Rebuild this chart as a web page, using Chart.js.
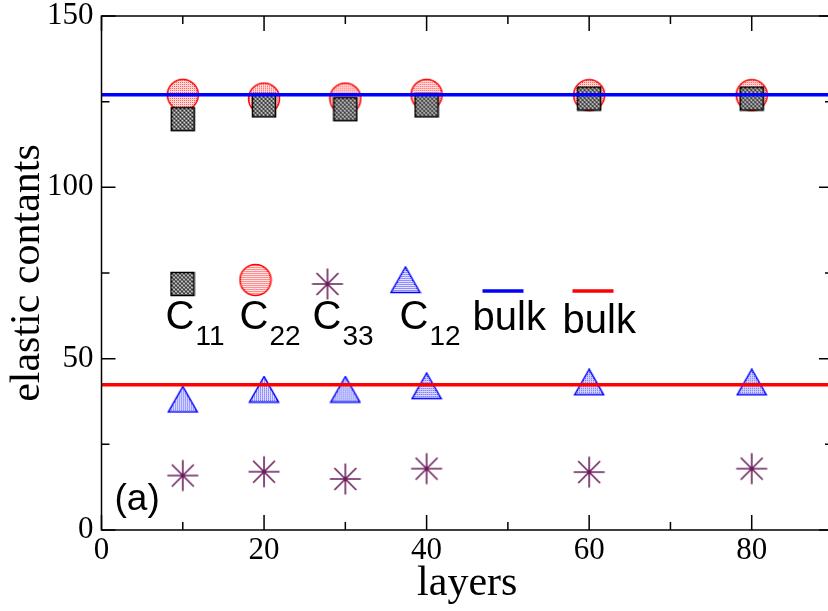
<!DOCTYPE html>
<html>
<head>
<meta charset="utf-8">
<script src="https://cdn.jsdelivr.net/npm/chart.js@4.4.1/dist/chart.umd.min.js"></script>
<style>
  html, body { margin: 0; padding: 0; background: #fff; overflow: hidden; }
  #wrap { width: 840px; height: 611px; }
</style>
</head>
<body>
<div id="wrap"><canvas id="myChart" width="840" height="611"></canvas></div>
<script>
// elastic constants vs number of layers
const layers = [10, 20, 30, 40, 60, 80];
const c11 = [119.9, 123.9, 122.8, 123.9, 125.9, 125.9];
const c22 = [127.0, 125.9, 125.9, 127.0, 126.9, 126.9];
const c33 = [15.9, 17.0, 14.9, 17.9, 16.9, 17.9];
const c12 = [38.1, 41.0, 41.0, 42.0, 43.1, 43.1];
const bulkC11 = 127.0;
const bulkC12 = 42.4;

const xRange = [0, 90];
const yRange = [0, 150];
const xMajor = [0, 20, 40, 60, 80];
const xMinor = [10, 30, 50, 70];
const yMajor = [0, 50, 100, 150];
const yMinor = [25, 75, 125];

const SERIF = '"Liberation Serif", "Times New Roman", serif';
const SANS = '"Liberation Sans", Arial, sans-serif';

function pts(ys) {
  return layers.map((x, i) => ({ x: x, y: ys[i] }));
}

// small stipple patterns like the old xmgrace fills
function stipple(ctx, size, base, dots) {
  const p = document.createElement('canvas');
  p.width = size; p.height = size;
  const pc = p.getContext('2d');
  pc.fillStyle = base;
  pc.fillRect(0, 0, size, size);
  dots.forEach(([px, py, c]) => {
    pc.fillStyle = c;
    pc.fillRect(px, py, 1, 1);
  });
  return ctx.createPattern(p, 'repeat');
}

function makeSquare() {
  const c = document.createElement('canvas');
  c.width = 26; c.height = 26;
  const g = c.getContext('2d');
  g.fillStyle = stipple(g, 4, '#7c7c7c', [
    [0, 0, '#000'], [2, 2, '#000'], [2, 0, '#fff'], [0, 2, '#fff'],
    [1, 1, '#555'], [3, 3, '#555']
  ]);
  g.fillRect(1, 1, 24, 24);
  g.strokeStyle = '#000';
  g.lineWidth = 1.5;
  g.strokeRect(1.5, 1.5, 23, 23);
  return c;
}

function makeCircle() {
  const c = document.createElement('canvas');
  c.width = 34; c.height = 34;
  const g = c.getContext('2d');
  g.beginPath();
  g.arc(17, 17, 15.5, 0, Math.PI * 2);
  g.fillStyle = stipple(g, 2, '#fff', [[0, 0, '#ff2020'], [1, 1, '#ffc8c8']]);
  g.fill();
  g.strokeStyle = '#ff0000';
  g.lineWidth = 1.5;
  g.stroke();
  return c;
}

function makeTriangle() {
  const c = document.createElement('canvas');
  c.width = 32; c.height = 28;
  const g = c.getContext('2d');
  g.beginPath();
  g.moveTo(16, 1);
  g.lineTo(1.5, 26.5);
  g.lineTo(30.5, 26.5);
  g.closePath();
  g.fillStyle = stipple(g, 2, '#fff', [[0, 0, '#2020ff'], [1, 1, '#c8c8ff']]);
  g.fill();
  g.strokeStyle = '#0000ff';
  g.lineWidth = 1.5;
  g.stroke();
  return c;
}

function makeStar() {
  const c = document.createElement('canvas');
  c.width = 34; c.height = 34;
  const g = c.getContext('2d');
  const r = 15.5, m = 17;
  g.strokeStyle = '#6b1e5c';
  g.lineWidth = 1.6;
  g.beginPath();
  for (let k = 0; k < 4; k++) {
    const a = k * Math.PI / 4;
    g.moveTo(m - Math.cos(a) * r, m - Math.sin(a) * r);
    g.lineTo(m + Math.cos(a) * r, m + Math.sin(a) * r);
  }
  g.stroke();
  return c;
}

const squareImg = makeSquare();
const circleImg = makeCircle();
const triImg = makeTriangle();
const starImg = makeStar();

// box with inward major/minor ticks on all four sides
const frame = {
  id: 'frame',
  afterDatasetsDraw(chart) {
    const { ctx, chartArea: a, scales: { x, y } } = chart;
    ctx.save();
    ctx.strokeStyle = '#000';
    ctx.lineWidth = 1.5;
    ctx.beginPath();
    const tick = (v, len, horiz) => {
      if (horiz) {
        const px = x.getPixelForValue(v);
        ctx.moveTo(px, a.bottom); ctx.lineTo(px, a.bottom - len);
        ctx.moveTo(px, a.top); ctx.lineTo(px, a.top + len);
      } else {
        const py = y.getPixelForValue(v);
        ctx.moveTo(a.left, py); ctx.lineTo(a.left + len, py);
        ctx.moveTo(a.right, py); ctx.lineTo(a.right - len, py);
      }
    };
    xMajor.forEach(v => tick(v, 15, true));
    xMinor.forEach(v => tick(v, 8, true));
    yMajor.forEach(v => tick(v, 14, false));
    yMinor.forEach(v => tick(v, 8, false));
    ctx.stroke();
    ctx.strokeRect(a.left, a.top, a.right - a.left, a.bottom - a.top);
    ctx.restore();
  }
};

// hand placed legend and panel label
const legendBox = {
  id: 'legendBox',
  afterDraw(chart) {
    const { ctx, chartArea: a } = chart;
    const L = a.left, T = a.top;
    ctx.save();
    const mark = (img, cx, cy) => ctx.drawImage(img, L + cx - img.width / 2, T + cy - img.height / 2);
    mark(squareImg, 81, 268);
    mark(circleImg, 154, 264);
    mark(starImg, 226, 268);
    mark(triImg, 304, 264);

    ctx.fillStyle = '#000';
    ctx.textBaseline = 'alphabetic';
    const label = (sub, left) => {
      ctx.font = '40px ' + SANS;
      ctx.fillText('C', L + left, T + 313);
      const w = ctx.measureText('C').width;
      ctx.font = '28px ' + SANS;
      ctx.fillText(sub, L + left + w + 1, T + 329);
    };
    label('11', 64);
    label('22', 138);
    label('33', 211);
    label('12', 298);

    ctx.lineWidth = 3.5;
    ctx.strokeStyle = '#0000ff';
    ctx.beginPath(); ctx.moveTo(L + 381, T + 275); ctx.lineTo(L + 422, T + 275); ctx.stroke();
    ctx.strokeStyle = '#ff0000';
    ctx.beginPath(); ctx.moveTo(L + 471, T + 275); ctx.lineTo(L + 512, T + 275); ctx.stroke();

    ctx.font = '40px ' + SANS;
    ctx.fillText('bulk', L + 371, T + 314);
    ctx.fillText('bulk', L + 461, T + 317);

    ctx.font = '37px ' + SANS;
    ctx.fillText('(a)', L + 13, T + 494);
    ctx.restore();
  }
};

const ctx = document.getElementById('myChart').getContext('2d');
const myChart = new Chart(ctx, {
  type: 'scatter',
  data: {
    datasets: [
      {
        label: 'bulk',
        data: [{ x: xRange[0], y: bulkC11 }, { x: xRange[1], y: bulkC11 }],
        showLine: true,
        borderColor: '#0000ff',
        borderWidth: 3.5,
        pointRadius: 0,
        order: 0
      },
      {
        label: 'bulk',
        data: [{ x: xRange[0], y: bulkC12 }, { x: xRange[1], y: bulkC12 }],
        showLine: true,
        borderColor: '#ff0000',
        borderWidth: 3.5,
        pointRadius: 0,
        order: 0
      },
      { label: 'C11', data: pts(c11), pointStyle: squareImg, order: 1 },
      { label: 'C22', data: pts(c22), pointStyle: circleImg, order: 2 },
      { label: 'C33', data: pts(c33), pointStyle: starImg, order: 1 },
      { label: 'C12', data: pts(c12), pointStyle: triImg, order: 1 }
    ]
  },
  options: {
    responsive: false,
    animation: false,
    layout: { padding: { left: 0, right: 7, top: 16, bottom: 0 } },
    plugins: {
      legend: { display: false },
      tooltip: { enabled: false }
    },
    scales: {
      x: {
        type: 'linear',
        min: xRange[0],
        max: xRange[1],
        grid: { display: false, drawTicks: false },
        border: { display: false },
        afterFit: s => { s.height = 81; s.paddingLeft = 0; s.paddingRight = 0; },
        ticks: {
          stepSize: 20,
          includeBounds: false,
          padding: 2,
          color: '#000',
          maxRotation: 0,
          font: { family: SERIF, size: 31 }
        },
        title: {
          display: true,
          text: 'layers',
          color: '#000',
          font: { family: SERIF, size: 42 },
          padding: { top: 0, bottom: 2 }
        }
      },
      y: {
        min: yRange[0],
        max: yRange[1],
        grid: { display: false, drawTicks: false },
        border: { display: false },
        afterFit: s => { s.width = 101.5; s.paddingTop = 0; s.paddingBottom = 0; },
        ticks: {
          stepSize: 50,
          padding: 8,
          color: '#000',
          font: { family: SERIF, size: 31 }
        },
        title: {
          display: true,
          text: 'elastic contants',
          color: '#000',
          font: { family: SERIF, size: 42 },
          padding: { top: 3, bottom: 0 }
        }
      }
    }
  },
  plugins: [frame, legendBox]
});
</script>
</body>
</html>
